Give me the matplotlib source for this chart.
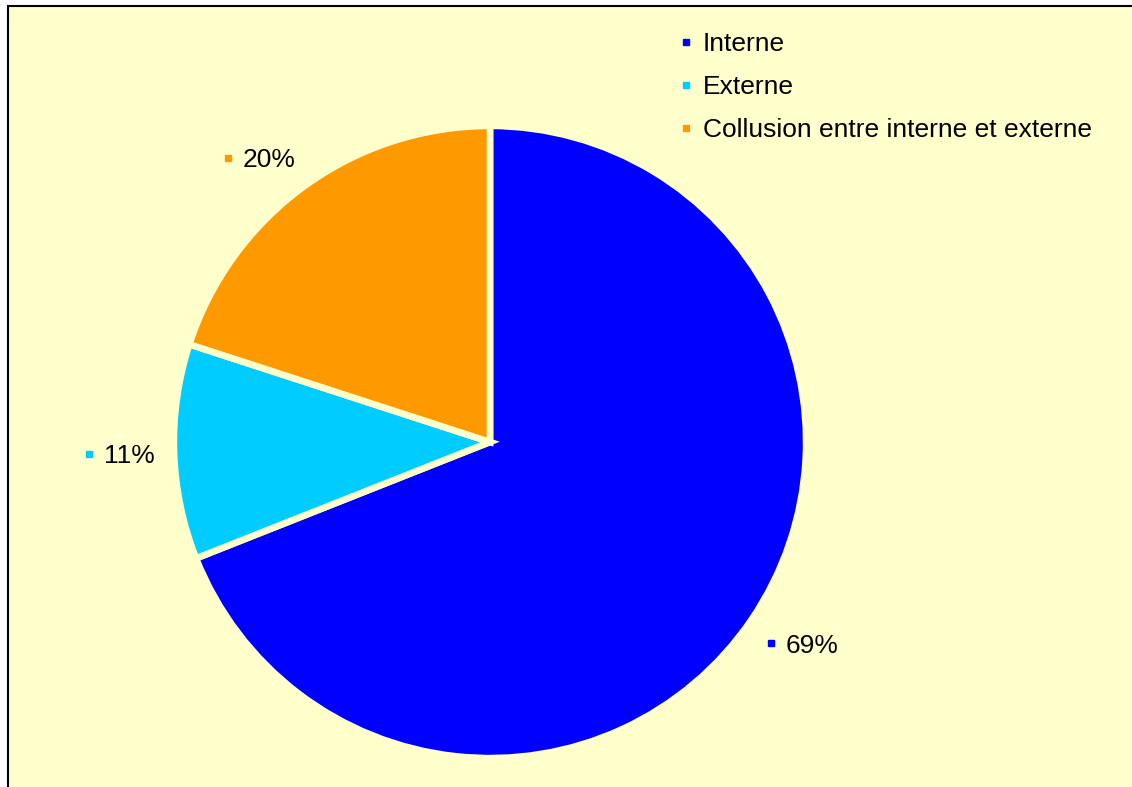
import matplotlib.pyplot as plt
import matplotlib.transforms as mtransforms
import numpy as np
from matplotlib.lines import Line2D
from matplotlib.patches import Rectangle

plt.rcParams["font.family"] = ["Liberation Sans", "DejaVu Sans"]

categories = ["Interne", "Externe", "Collusion entre interne et externe"]
values = [69, 11, 20]
pct_labels = ["69%", "11%", "20%"]
colors = ["#0000FF", "#00CCFF", "#FF9900"]
bg = "#FFFFCC"

W, H = 1132, 787
fig = plt.figure(figsize=(W / 100, H / 100), dpi=100)
fig.patch.set_facecolor("white")

# chart area: yellow fill, black border only on the left and top (rest is cut off)
x0, y1 = 8 / W, 1 - 6 / H
fig.patches.append(Rectangle((x0, 0), 1 - x0, y1, transform=fig.transFigure,
                             facecolor=bg, edgecolor="none", zorder=-10))
fig.add_artist(Line2D([x0, x0, 1], [0, y1, y1], transform=fig.transFigure,
                      color="black", linewidth=1.5, solid_joinstyle="miter", zorder=-9))

# pie centre at (490, 442) px from top-left, radius ~313 px
cx, cy, r = 490, H - 442, 313.0
ax = fig.add_axes([0, 0, 1, 1])
ax.patch.set_visible(False)

wedges, _ = ax.pie(values, colors=colors, startangle=90, counterclock=False, radius=1.01,
                   wedgeprops=dict(edgecolor=bg, linewidth=4.8))
ax.set_xlim(-cx / r, (W - cx) / r)
ax.set_ylim(-cy / r, (H - cy) / r)
ax.axis("off")


def px_shift(dx, dy):
    return mtransforms.ScaledTranslation(dx / 100, dy / 100, fig.dpi_scale_trans)


# percentage labels, "outside end" style: block corner sits on the mid-angle ray
d = 336 / r
hw, hh = 34, 12.5
for w, lab, col in zip(wedges, pct_labels, colors):
    ang = np.deg2rad((w.theta1 + w.theta2) / 2)
    c, s = np.cos(ang), np.sin(ang)
    x, y = d * c, d * s
    ox = hw * np.clip(3 * c, -1, 1)
    oy = hh * np.clip(3 * s, -1, 1)
    ax.plot([x], [y], marker="s", markersize=5, color=col, linestyle="",
            transform=ax.transData + px_shift(ox - 31, oy))
    ax.annotate(lab, xy=(x, y), xytext=((ox - 16) * 0.72, (oy - 9.5) * 0.72),
                textcoords="offset points", ha="left", va="baseline", fontsize=19)

handles = [Line2D([], [], marker="s", linestyle="", markersize=5, color=c) for c in colors]
ax.legend(handles, categories, loc="upper left", bbox_to_anchor=(681 / W, 1 - 32 / H),
          bbox_transform=fig.transFigure, frameon=False, fontsize=19, borderpad=0,
          borderaxespad=0, handlelength=0.4, handletextpad=0.42, labelspacing=0.72)

plt.savefig("out.png", dpi=100, facecolor=fig.get_facecolor())
